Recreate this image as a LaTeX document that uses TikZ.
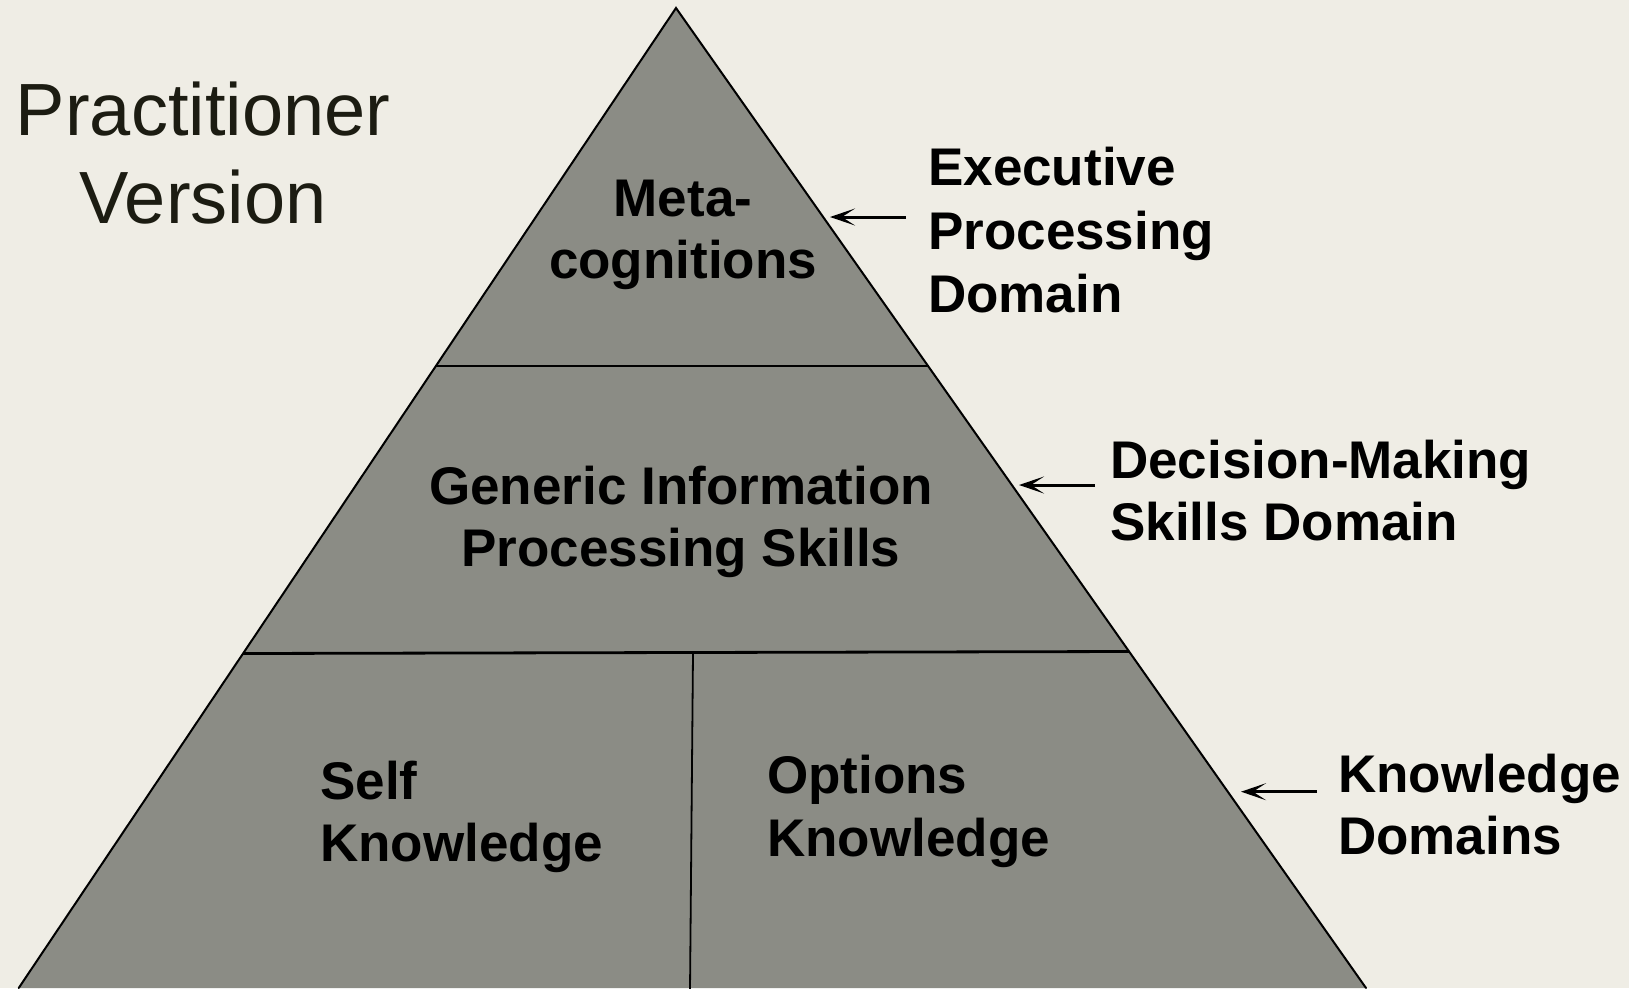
\documentclass[tikz,border=0pt]{standalone}
\usepackage{fontspec}
\setmainfont{Liberation Sans}
\usetikzlibrary{arrows.meta}
\definecolor{bg}{RGB}{239,237,229}
\definecolor{pyr}{RGB}{139,140,133}
\definecolor{ttl}{RGB}{28,28,18}
\begin{document}
\begin{tikzpicture}[x=1pt,y=-1pt,
  lab/.style={font=\fontsize{53}{63.5}\selectfont\bfseries, inner sep=0pt, anchor=base west},
  labc/.style={lab, anchor=base},
  ttlstyle/.style={font=\fontsize{74}{88}\selectfont, text=ttl, inner sep=0pt, anchor=base},
  edgeline/.style={line width=2pt, line cap=round},
  pointer/.style={line width=3pt, -{Stealth[length=25pt,width=17pt,inset=13pt]}}
]
\fill[bg] (0,0) rectangle (1629,988);
\useasboundingbox (0,0) rectangle (1629,988);
\begin{scope}
\clip (0,0) rectangle (1629,988);
\coordinate (apex) at (676,8);
\coordinate (bl) at (18.7,988);
\coordinate (br) at (1366,988);
\coordinate (l1a) at (436,365.7);
\coordinate (l1b) at (928,365.7);
\coordinate (l2a) at (243,653.5);
\coordinate (l2b) at (1129,651.5);
\coordinate (va) at (693,652.5);
\coordinate (vb) at (690,990);
\fill[pyr] (bl) -- (apex) -- (br) -- cycle;
\draw[edgeline] (bl) -- (apex) -- (br);
\draw[line width=2.2pt] (l1a) -- (l1b);
\draw[line width=2.8pt] (l2a) -- (l2b);
\draw[line width=1.8pt] (va) -- (vb);
\end{scope}

% title
\node[ttlstyle] (t1) at (203,135) {Practitioner};
\node[ttlstyle] (t2) at (203,223) {Version};

% pyramid texts
\node[labc] (m1) at (683,216) {Meta-};
\node[labc] (m2) at (683,278) {cognitions};
\node[labc] (g1) at (681,504) {Generic Information};
\node[labc] (g2) at (681,566) {Processing Skills};
\node[lab] (s1) at (320,799) {Self};
\node[lab] (s2) at (320,861.5) {Knowledge};
\node[lab] (o1) at (767,793) {Options};
\node[lab] (o2) at (767,856.5) {Knowledge};

% side labels
\node[lab] (e1) at (928,185) {Executive};
\node[lab] (e2) at (928,249) {Processing};
\node[lab] (e3) at (928,312) {Domain};
\node[lab] (d1) at (1110,478) {Decision-Making};
\node[lab] (d2) at (1110,540) {Skills Domain};
\node[lab] (k1) at (1338,792) {Knowledge};
\node[lab] (k2) at (1338,854) {Domains};

% arrows
\coordinate (a1t) at (906,217);
\coordinate (a1h) at (830,217);
\coordinate (a2t) at (1095,485);
\coordinate (a2h) at (1019,485);
\coordinate (a3t) at (1317,791.7);
\coordinate (a3h) at (1241,791.7);
\draw[pointer] (a1t) -- (a1h);
\draw[pointer] (a2t) -- (a2h);
\draw[pointer] (a3t) -- (a3h);
\end{tikzpicture}
\end{document}
